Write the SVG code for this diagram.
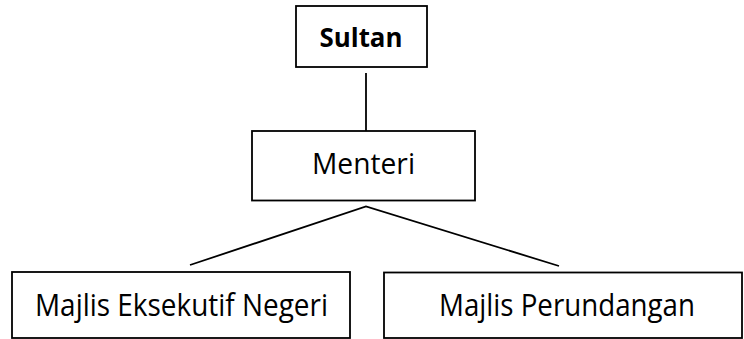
<svg xmlns="http://www.w3.org/2000/svg" width="744" height="339" viewBox="0 0 744 339">
<style>
.box{fill:#fff;stroke:#000;stroke-width:1.8}
.t{font-family:"Open Sans","Liberation Sans",sans-serif;fill:#000;text-anchor:middle}
.c{stroke:#000;stroke-width:1.8;fill:none}
</style>
<rect width="744" height="339" fill="#fff"/>
<g id="connectors">
<line class="c" x1="366" y1="73" x2="366" y2="131"/>
<polyline class="c" points="190,265 366,206.5 559,266"/>
</g>
<g id="sultan">
<rect class="box" x="296" y="6" width="131" height="61"/>
<text class="t" x="361" y="47" font-size="27" font-weight="bold" textLength="83" lengthAdjust="spacingAndGlyphs">Sultan</text>
</g>
<g id="menteri">
<rect class="box" x="252" y="131" width="223" height="69.5"/>
<text class="t" x="363.5" y="173.5" font-size="29" textLength="103" lengthAdjust="spacingAndGlyphs">Menteri</text>
</g>
<g id="majlis-eksekutif">
<rect class="box" x="12" y="272" width="338" height="66"/>
<text class="t" x="181.5" y="315.5" font-size="31" textLength="293" lengthAdjust="spacingAndGlyphs">Majlis Eksekutif Negeri</text>
</g>
<g id="majlis-perundangan">
<rect class="box" x="384" y="272.5" width="358" height="65.5"/>
<text class="t" x="567" y="315.5" font-size="31" textLength="256" lengthAdjust="spacingAndGlyphs">Majlis Perundangan</text>
</g>
</svg>
